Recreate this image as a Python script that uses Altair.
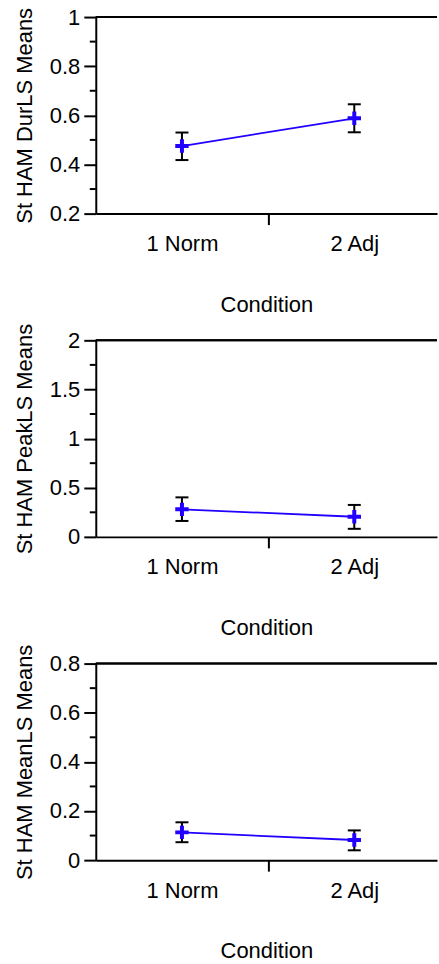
import altair as alt
import pandas as pd

# Conditions on the x axis and their numeric positions
conditions = ["1 Norm", "2 Adj"]
cond_pos = [1, 2]

# St HAM DurLS: means with lower / upper error limits
dur_mean = [0.475, 0.588]
dur_lo = [0.418, 0.531]
dur_hi = [0.530, 0.645]

# St HAM PeakLS
peak_mean = [0.280, 0.205]
peak_lo = [0.162, 0.082]
peak_hi = [0.402, 0.325]

# St HAM MeanLS
meanls_mean = [0.113, 0.082]
meanls_lo = [0.073, 0.040]
meanls_hi = [0.154, 0.121]

FONT = "Liberation Sans"
W, H = 342, 197
BLUE = "#2200ff"
X_DOMAIN = [0.5, 2.48]

label_expr = " : ".join(
    f"datum.value == {p} ? '{c}'" for p, c in zip(cond_pos, conditions)
) + " : ''"


def panel(title, mean, lo, hi, domain, step):
    df = pd.DataFrame({"pos": cond_pos, "cond": conditions,
                       "mean": mean, "lo": lo, "hi": hi})
    n = int(round((domain[1] - domain[0]) / step))
    majors = [round(domain[0] + i * step, 4) for i in range(n + 1)]
    minors = pd.DataFrame({"v": [round(domain[0] + (i + 0.5) * step, 4) for i in range(n)]})

    yscale = alt.Scale(domain=domain, nice=False, zero=False)
    yaxis = alt.Axis(values=majors, format="~g", title=title, tickSize=12,
                     labelPadding=4, titlePadding=13, grid=False)
    xscale = alt.Scale(domain=X_DOMAIN, nice=False, zero=False)
    xaxis = alt.Axis(values=[1, 1.5, 2], title="Condition", labelExpr=label_expr,
                     tickOpacity={"condition": {"test": "datum.value == 1.5", "value": 1}, "value": 0},
                     tickSize=11, labelPadding=9, titlePadding=40, grid=False)

    def yq(field):
        return alt.Y(field, type="quantitative", scale=yscale, axis=yaxis)

    def xq(field="pos"):
        return alt.X(field, type="quantitative", scale=xscale, axis=xaxis)

    base = alt.Chart(df)

    frame_top = base.mark_rule(color="black", strokeWidth=2).encode(
        x=alt.value(0), x2=alt.value(W), y=alt.value(0))

    minor_ticks = alt.Chart(minors).mark_rule(color="black", strokeWidth=2).encode(
        y=yq("v"), x=alt.value(-6), x2=alt.value(0))

    err = base.mark_rule(color="black", strokeWidth=2).encode(
        x=xq(), y=yq("lo"), y2="hi")
    cap_lo = base.mark_rule(color="black", strokeWidth=2, xOffset=-6.5, x2Offset=6.5).encode(
        x=xq(), x2="pos", y=yq("lo"))
    cap_hi = base.mark_rule(color="black", strokeWidth=2, xOffset=-6.5, x2Offset=6.5).encode(
        x=xq(), x2="pos", y=yq("hi"))

    line = base.mark_line(color=BLUE, strokeWidth=1.8).encode(x=xq(), y=yq("mean"))
    pts = base.mark_point(shape="M-1,0L1,0M0,-1L0,1", size=180, stroke=BLUE,
                          strokeWidth=4, filled=False, opacity=1).encode(
        x=xq(), y=yq("mean"))

    return alt.layer(frame_top, minor_ticks, err, cap_lo, cap_hi, line, pts).properties(
        width=W, height=H)


p1 = panel("St HAM DurLS Means", dur_mean, dur_lo, dur_hi, [0.2, 1.0], 0.2)
p2 = panel("St HAM PeakLS Means", peak_mean, peak_lo, peak_hi, [0.0, 2.0], 0.5)
p3 = panel("St HAM MeanLS Means", meanls_mean, meanls_lo, meanls_hi, [0.0, 0.8], 0.2)

chart = alt.vconcat(p1, p2, p3, spacing=127, bounds="flush").properties(
    padding={"left": 12, "top": 4, "right": 0, "bottom": 0},
    background="white",
).configure_view(
    stroke="transparent"
).configure_axis(
    labelFont=FONT, titleFont=FONT, labelFontSize=22, titleFontSize=22,
    titleFontWeight="normal", labelColor="black", titleColor="black",
    domainColor="black", tickColor="black", domainWidth=2, tickWidth=2,
)

chart.save("out.html", embed_options={"renderer": "svg", "actions": False})
